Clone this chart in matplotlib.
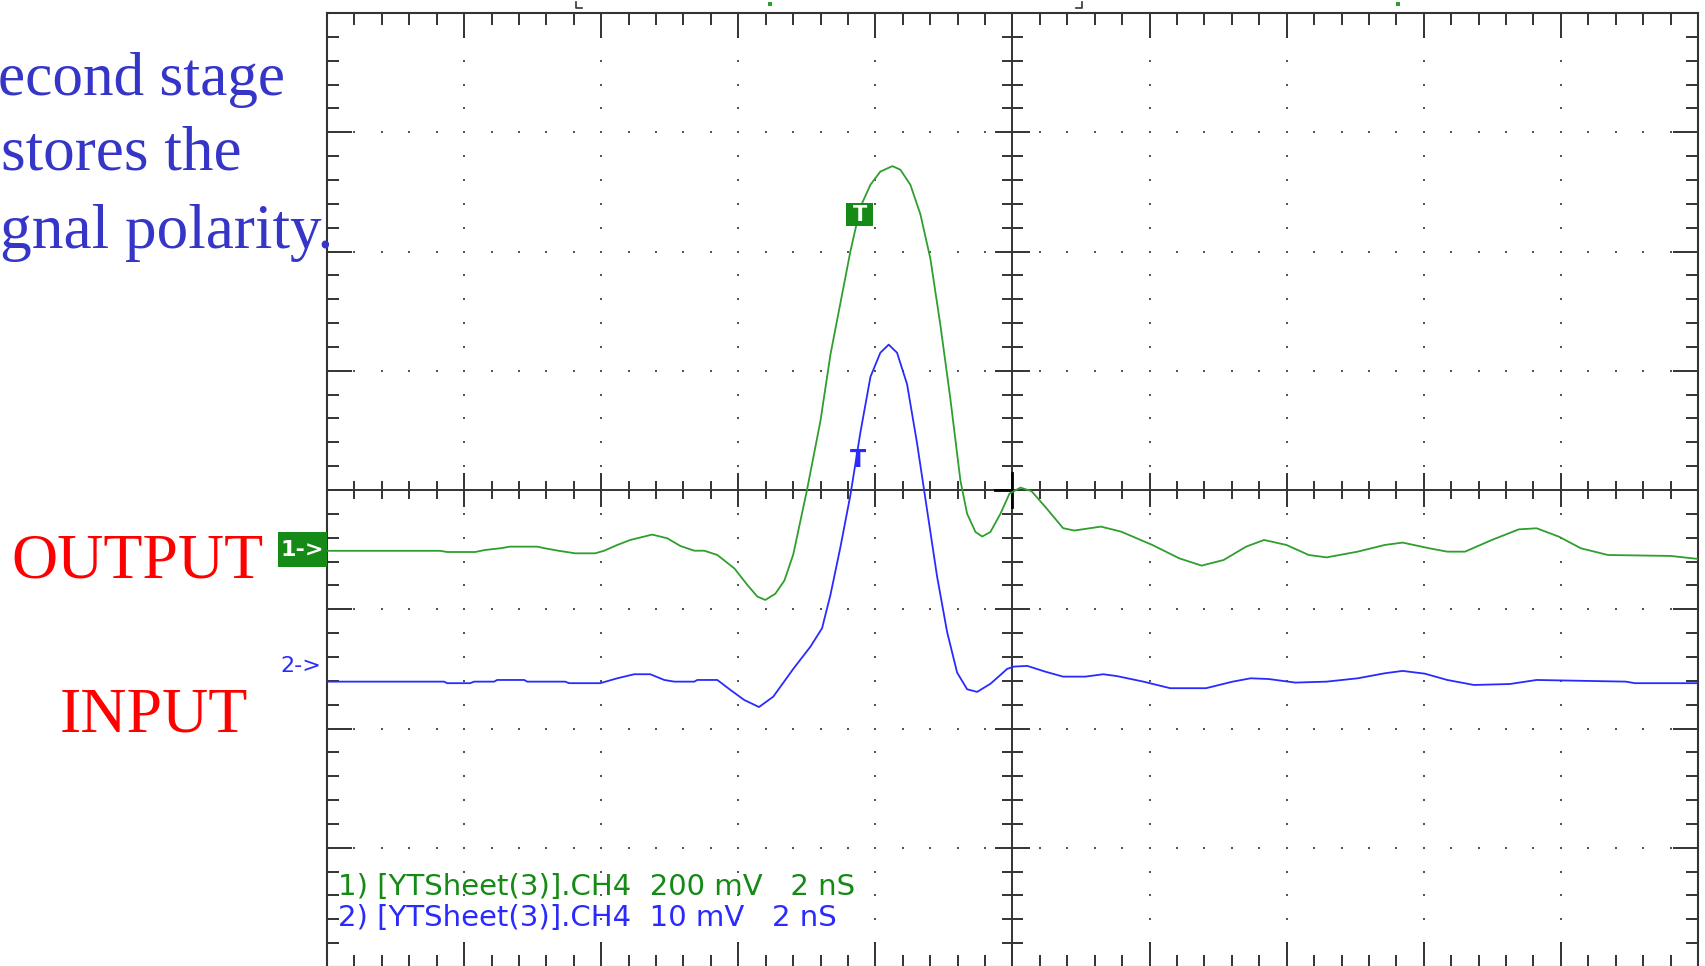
import matplotlib

matplotlib.use("Agg")
import matplotlib.pyplot as plt
import numpy as np
from matplotlib.collections import LineCollection
from matplotlib.patches import Rectangle

W, H = 1706, 966

# Scope screen: 10 x 8 divisions, 2 ns/div horizontally.
# Channel 1 (OUTPUT, 200 mV/div), values in divisions.
OUT_T = [-5.0, -4.175, -4.124, -3.92, -3.847, -3.737, -3.664, -3.467, -3.409,
         -3.314, -3.19, -3.044, -2.978, -2.883, -2.788, -2.628, -2.518, -2.423,
         -2.321, -2.248, -2.153, -2.029, -1.934, -1.861, -1.803, -1.73, -1.664,
         -1.599, -1.499, -1.401, -1.328, -1.255, -1.182, -1.109, -1.036, -0.964,
         -0.876, -0.818, -0.745, -0.672, -0.599, -0.526, -0.453, -0.38, -0.331,
         -0.27, -0.221, -0.161, -0.088, -0.022, 0.058, 0.139, 0.238, 0.369, 0.45,
         0.645, 0.792, 1.02, 1.216, 1.379, 1.54, 1.704, 1.835, 1.998, 2.161,
         2.291, 2.518, 2.715, 2.845, 3.041, 3.171, 3.301, 3.496, 3.693, 3.823,
         3.985, 4.146, 4.343, 4.8, 5.0]
OUT_V = [-0.51, -0.51, -0.52, -0.52, -0.503, -0.489, -0.475, -0.475, -0.489,
         -0.509, -0.531, -0.531, -0.509, -0.461, -0.419, -0.374, -0.405, -0.469,
         -0.509, -0.509, -0.545, -0.657, -0.796, -0.894, -0.922, -0.87, -0.76,
         -0.54, 0.0, 0.578, 1.135, 1.569, 2.003, 2.375, 2.56, 2.67,
         2.716, 2.686, 2.56, 2.313, 1.94, 1.383, 0.763, 0.08, -0.199,
         -0.352, -0.39, -0.352, -0.199, -0.03, 0.02, -0.01, -0.14, -0.32, -0.34,
         -0.307, -0.349, -0.461, -0.573, -0.634, -0.587, -0.475, -0.419, -0.461, -0.545,
         -0.565, -0.517, -0.461, -0.441, -0.489, -0.517, -0.517, -0.419, -0.33, -0.321,
         -0.391, -0.489, -0.545, -0.553, -0.578]

# Channel 2 (INPUT, 10 mV/div)
IN_T = [-5.0, -4.146, -4.124, -3.956, -3.927, -3.781, -3.759, -3.562, -3.54,
        -3.263, -3.234, -3.007, -2.883, -2.759, -2.642, -2.54, -2.467, -2.321,
        -2.299, -2.153, -2.058, -1.958, -1.849, -1.745, -1.599, -1.474, -1.389,
        -1.328, -1.255, -1.182, -1.109, -1.036, -0.964, -0.903, -0.842, -0.769,
        -0.696, -0.623, -0.55, -0.477, -0.404, -0.331, -0.258, -0.161, -0.088,
        -0.039, 0.01, 0.108, 0.238, 0.369, 0.531, 0.662, 0.759, 0.955, 1.15,
        1.412, 1.606, 1.737, 1.868, 2.063, 2.291, 2.518, 2.715, 2.845, 3.007,
        3.171, 3.366, 3.627, 3.823, 4.146, 4.474, 4.54, 5.0]
IN_V = [-1.607, -1.607, -1.62, -1.62, -1.607, -1.607, -1.593, -1.593, -1.607,
        -1.607, -1.62, -1.62, -1.579, -1.545, -1.545, -1.593, -1.607, -1.607,
        -1.593, -1.593, -1.676, -1.76, -1.82, -1.733, -1.5, -1.314, -1.159,
        -0.88, -0.478, -0.04, 0.486, 0.949, 1.151, 1.219, 1.151, 0.887,
        0.391, -0.168, -0.726, -1.19, -1.531, -1.671, -1.693, -1.625, -1.551,
        -1.5, -1.481, -1.475, -1.523, -1.565, -1.565, -1.545, -1.56, -1.607, -1.662,
        -1.662, -1.607, -1.579, -1.585, -1.615, -1.607, -1.579, -1.537, -1.517, -1.54,
        -1.593, -1.635, -1.627, -1.593, -1.6, -1.607, -1.62, -1.62]

# slide caption, only the part that is visible on the page
CAPTION = ["econd stage", "stores the", "gnal polarity."]
LEGEND = ["1) [YTSheet(3)].CH4  200 mV   2 nS",
          "2) [YTSheet(3)].CH4  10 mV   2 nS"]

GREEN, GREEN_DARK = "#2f9e2f", "#168a16"
BLUE = "#2a2aff"
FRAME = "#333333"


def fig_xy(x_px, y_px):
    return x_px / W, 1 - y_px / H


def draw_screen(ax):
    ax.set_xlim(-5, 5)
    ax.set_ylim(-4, 4)
    ax.set_xticks(np.arange(-5, 6))
    ax.set_yticks(np.arange(-4, 5))
    ax.set_xticks(np.arange(-5, 5.01, 0.2), minor=True)
    ax.set_yticks(np.arange(-4, 4.01, 0.2), minor=True)
    ax.tick_params(which="both", direction="in", top=True, right=True,
                   labelbottom=False, labelleft=False, color=FRAME, width=1.4)
    ax.tick_params(which="major", length=18)
    ax.tick_params(which="minor", length=8.6)
    for spine in ax.spines.values():
        spine.set_color(FRAME)
        spine.set_linewidth(1.5)

    # dotted graticule
    minor_x = np.round(np.arange(-4.8, 4.81, 0.2), 2)
    minor_y = np.round(np.arange(-3.8, 3.81, 0.2), 2)
    dots = [(x, y) for x in range(-4, 5) if x != 0 for y in minor_y if y != 0]
    dots += [(x, y) for y in range(-3, 4) if y != 0 for x in minor_x if x != 0]
    dots = np.array(dots)
    ax.scatter(dots[:, 0], dots[:, 1], s=1.6, marker="s", color="#555555",
               linewidths=0, zorder=1)

    # centre cross with ticks
    ax.axhline(0, color=FRAME, lw=1.4, zorder=2)
    ax.axvline(0, color=FRAME, lw=1.4, zorder=2)
    segs = []
    for x in minor_x:
        if x == 0:
            continue
        h = 0.143 if float(x).is_integer() else 0.0755
        segs.append([(x, -h), (x, h)])
    for y in minor_y:
        if y == 0:
            continue
        h = 0.124 if float(y).is_integer() else 0.073
        segs.append([(-h, y), (h, y)])
    ax.add_collection(LineCollection(segs, colors=FRAME, linewidths=1.4, zorder=2))
    ax.plot([-0.13, 0], [0, 0], color="black", lw=2.0, zorder=2)
    ax.plot([0, 0], [-0.14, 0.14], color="black", lw=2.0, zorder=2)

    # small markers above the screen
    for x0, x1 in ((-3.182, -3.139), (0.504, 0.46)):
        ax.plot([x0, x0, x1], [4.09, 4.04, 4.04], color=FRAME, lw=1.2, clip_on=False)
    ax.scatter([-1.766, 2.81], [4.074, 4.074], s=5, marker="s", color=GREEN,
               linewidths=0, clip_on=False)


def main():
    fig = plt.figure(figsize=(W / 100, H / 100), dpi=100)
    ax = fig.add_axes([327 / W, -1 / H, 1371 / W, 954 / H])
    draw_screen(ax)

    ax.plot(OUT_T, OUT_V, color=GREEN, lw=1.3, zorder=3)
    ax.plot(IN_T, IN_V, color=BLUE, lw=1.3, zorder=3)

    # trigger markers
    ax.add_patch(Rectangle((-1.212, 2.217), 0.197, 0.189, facecolor=GREEN_DARK,
                           edgecolor="none", zorder=4))
    ax.text(-1.113, 2.31, "T", color="white", fontsize=15, fontweight="bold",
            ha="center", va="center", family="DejaVu Sans", zorder=5)
    ax.text(-1.124, 0.25, "T", color=BLUE, fontsize=17, fontweight="bold",
            ha="center", va="center", family="DejaVu Sans", zorder=5)

    # channel level markers
    ax.add_patch(Rectangle((-5.358, -0.645), 0.358, 0.293, facecolor=GREEN_DARK,
                           edgecolor="none", clip_on=False, zorder=4))
    ax.text(-5.18, -0.5, "1->", color="white", fontsize=16, fontweight="bold",
            ha="center", va="center", family="DejaVu Sans", clip_on=False, zorder=5)
    ax.text(-5.19, -1.475, "2->", color=BLUE, fontsize=16,
            ha="center", va="center", family="DejaVu Sans", clip_on=False, zorder=5)

    # channel settings
    for i, (line, color) in enumerate(zip(LEGEND, (GREEN_DARK, BLUE))):
        ax.text(-4.92, -3.33 - 0.257 * i, line, color=color, fontsize=21,
                ha="left", va="center", family="DejaVu Sans", zorder=5)

    serif = ["Liberation Serif", "DejaVu Serif"]
    caption_place = [(285, 95, "right", 44), (242, 170, "right", 45.5),
                     (0, 248, "left", 45.5)]
    for line, (x, base, align, size) in zip(CAPTION, caption_place):
        fig.text(*fig_xy(x, base), line, color="#3535c8", fontsize=size,
                 ha=align, va="baseline", family=serif)
    fig.text(*fig_xy(11, 578), "OUTPUT", color="#ff0000", fontsize=46,
             ha="left", va="baseline", family=serif)
    fig.text(*fig_xy(60, 731), "INPUT", color="#ff0000", fontsize=46,
             ha="left", va="baseline", family=serif)

    fig.savefig("out.png", dpi=100)


if __name__ == "__main__":
    main()
